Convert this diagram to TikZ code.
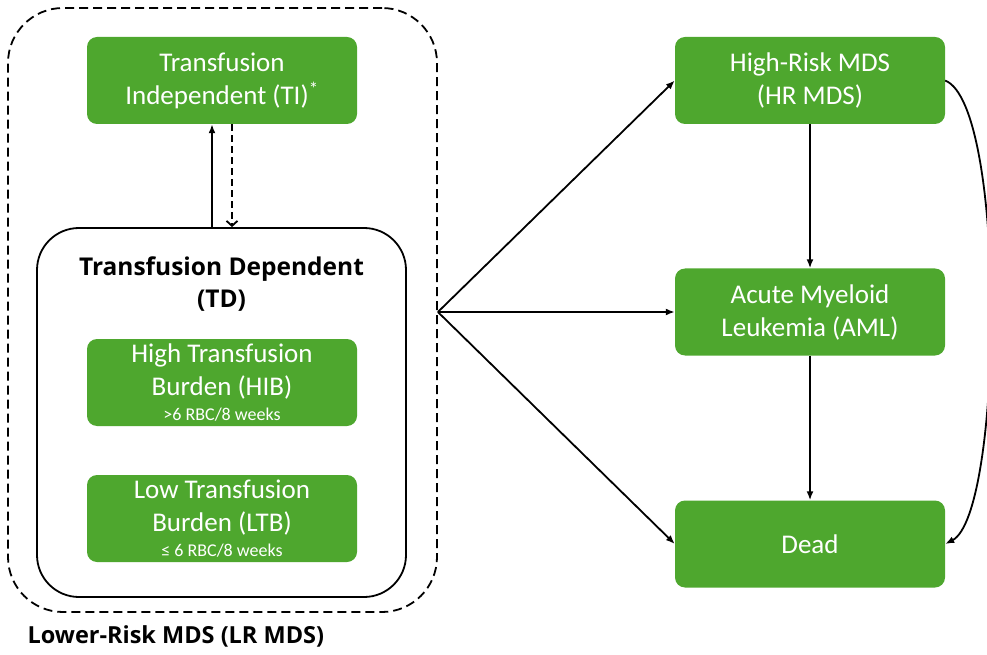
\documentclass[tikz,border=0pt]{standalone}
\usepackage{fontspec}
\setmainfont{Carlito}
\newfontfamily\headfont{Open Sans}
\usetikzlibrary{positioning,arrows.meta}
\definecolor{mdsgreen}{RGB}{78,167,46}

\begin{document}
\begin{tikzpicture}[
    x=1pt, y=1pt,
    state/.style={fill=mdsgreen, text=white, rounded corners=10pt, minimum width=270pt, minimum height=87pt, align=center, font=\fontsize{27}{33}\selectfont},
    flow/.style={-{Latex[length=9pt,width=7pt]}, line width=1.8pt},
    back/.style={-{Straight Barb[length=5pt,width=11pt]}, line width=1.8pt, dash pattern=on 7pt off 4pt},
    head/.style={font=\headfont\bfseries\fontsize{24.5}{32}\selectfont, align=center}
]
    \useasboundingbox (0,0) rectangle (987,654);

    % lower-risk states
    \node[draw, line width=1.8pt, dash pattern=on 9pt off 5pt, rounded corners=55pt, minimum width=429pt, minimum height=604pt] (lrmds) at (222.5,344) {};
    \node[draw, line width=1.8pt, rounded corners=42pt, minimum width=369pt, minimum height=369pt, fill=white] (td) at (221.5,241.5) {};
    \node[head] (tdlabel) at (221.5,370) {Transfusion Dependent\\(TD)};
    \node[state] (ti) at (222,573.5) {Transfusion\\Independent (TI)\textsuperscript{*}};
    \node[state] (hib) at (222,271.5) {High Transfusion\\Burden (HIB)\\[-8pt]{\fontsize{18}{18}\selectfont >6 RBC/8 weeks}};
    \node[state] (ltb) at (222,135.5) {Low Transfusion\\Burden (LTB)\\[-8pt]{\fontsize{18}{18}\selectfont ≤ 6 RBC/8 weeks}};
    \node[head, font=\headfont\bfseries\fontsize{23.5}{30}\selectfont, anchor=west] (lrlabel) at (24,18) {Lower-Risk MDS (LR MDS)};

    % progression states
    \node[state] (hr) at (810,573.5) {High-Risk MDS\\(HR MDS)};
    \node[state] (aml) at (810,342) {Acute Myeloid\\Leukemia (AML)};
    \node[state] (dead) at (810,110) {Dead};

    \draw[flow] ([xshift=-10pt]ti.south |- td.north) -- ([xshift=-10pt]ti.south);
    \draw[back] ([xshift=10pt]ti.south) -- ([xshift=10pt]ti.south |- td.north);

    \coordinate (hub) at (lrmds.east |- aml.west);
    \draw[flow] (hub) -- (hr.west);
    \draw[flow] (hub) -- (aml.west);
    \draw[flow] (hub) -- (dead.west);
    \draw[flow] (hr) -- (aml);
    \draw[flow] (aml) -- (dead);
    \draw[flow] (hr.east) .. controls +(62,-25) and +(58,30) .. (dead.east);
\end{tikzpicture}
\end{document}
